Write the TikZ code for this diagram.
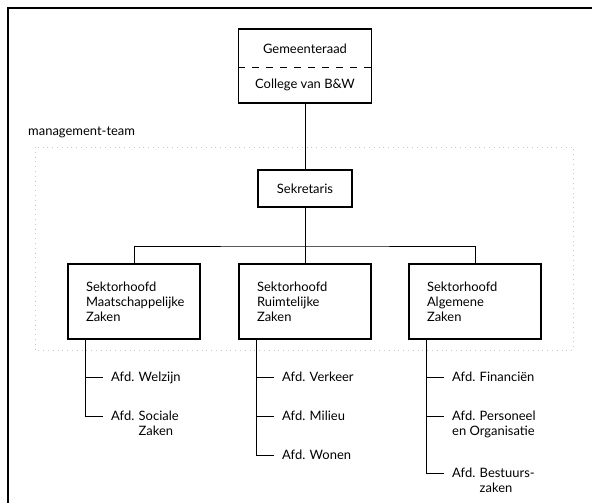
\documentclass[tikz,border=0pt]{standalone}
\usepackage{fontspec}
\setmainfont{Lato}
\usepackage{tikz}
\usetikzlibrary{calc}

\begin{document}
\begin{tikzpicture}[x=1bp,y=-1bp,
		every node/.style={font=\fontsize{13}{15}\selectfont},
		box/.style={draw,line width=1.1bp},
		sektor/.style={box,minimum height=75bp,text width=96bp,inner xsep=18bp,align=left},
		afd/.style={anchor=north west,inner sep=0pt,align=left},
		lijn/.style={line width=0.9bp}]
		\useasboundingbox (0,0) rectangle (592,503);
		% kader en management-team
		\draw[line width=1.5bp] (8,503) -- (8,8) -- (592,8);
		\draw[gray!45,dash pattern=on 0.8bp off 4bp] (35,147) rectangle (573,350);
		\node[anchor=west,inner sep=0pt] (mteam) at (28,132) {management-team};

		% bestuur
		\node[box,minimum width=133bp,minimum height=74bp] (bestuur) at (305,66) {};
		\node (raad) at (305,49) {Gemeenteraad};
		\node (college) at (305,85) {College van B\&W};
		\draw[dash pattern=on 7bp off 7bp] (bestuur.west |- 0,67) -- (bestuur.east |- 0,67);
		\node[box,minimum width=94bp,minimum height=37bp] (sek) at (305,188.5) {Sekretaris};

		% sektoren
		\foreach \s/\x/\tekst in {mz/134/{Sektorhoofd\\Maatschappelijke\\Zaken},rz/305/{Sektorhoofd\\Ruimtelijke\\Zaken},az/475/{Sektorhoofd\\Algemene\\Zaken}} {
			\node[sektor] (\s) at (\x,301.5) {\tekst};
		}
		\coordinate (bus) at (305,246);
		\draw[lijn] (bestuur) -- (sek);
		\draw[lijn] (sek) -- (bus);
		\draw[lijn] (mz.north) |- (bus) -| (az.north);
		\draw[lijn] (bus) -- (rz.north);

		% afdelingen
		\foreach \s/\x/\naam/\y/\tekst in {mz/68/welzijn/377/{Afd. Welzijn},mz/68/sociale/416/{Afd. Sociale\\\phantom{Afd. }Zaken},
			rz/239/verkeer/377/{Afd. Verkeer},rz/239/milieu/416/{Afd. Milieu},rz/239/wonen/455/{Afd. Wonen},
			az/409/financien/377/{Afd. Financiën},az/409/personeel/416/{Afd. Personeel\\en Organisatie},az/409/bestuurszaken/473/{Afd. Bestuurs-\\\phantom{Afd. }zaken}} {
			\node[afd] (\naam) at (\x+43,\y-5) {\tekst};
			\draw[lijn] ([xshift=18bp]\s.south west) |- ([shift={(-8,5)}]\naam.north west);
		}
	\end{tikzpicture}
\end{document}
